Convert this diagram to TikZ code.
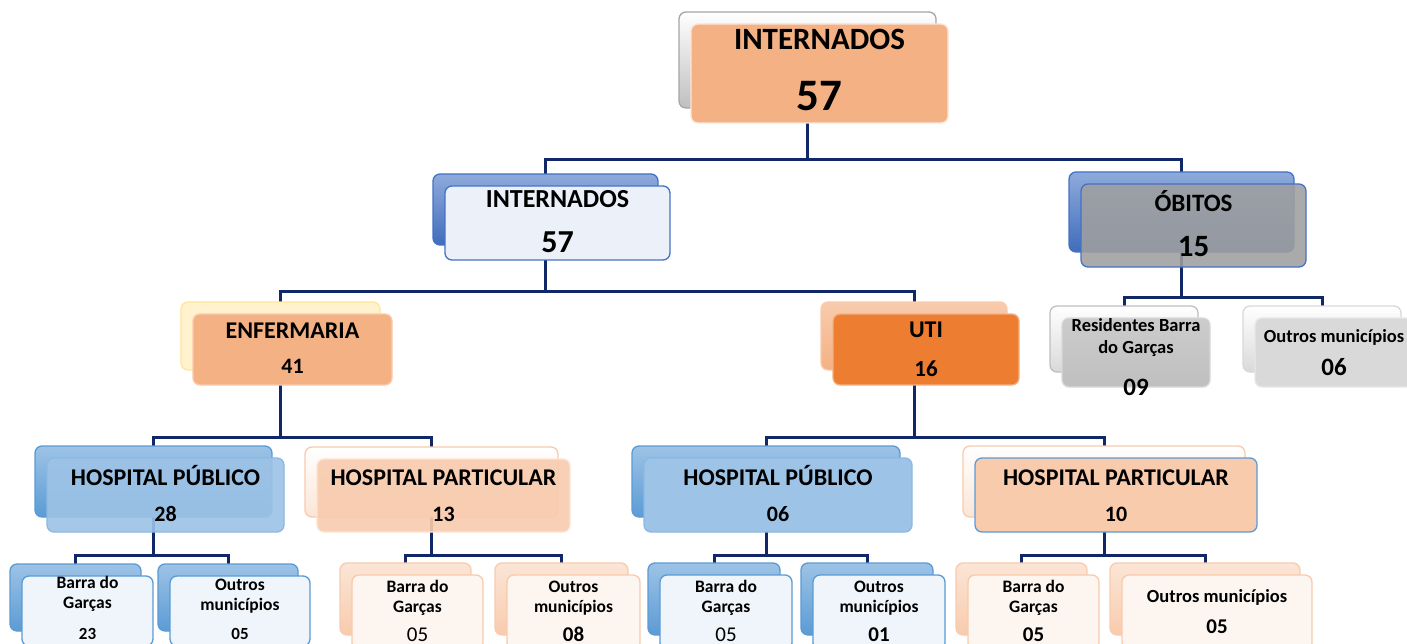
\documentclass[tikz,border=0pt]{standalone}
\usepackage{fontspec}
\setmainfont{Carlito}
\usetikzlibrary{calc,backgrounds}
\definecolor{navy}{RGB}{16,40,104}
\definecolor{orA}{HTML}{F4B183}
\definecolor{orB}{HTML}{ED7D31}
\definecolor{orC}{HTML}{F8CBAD}
\definecolor{orD}{HTML}{FBE5D6}
\definecolor{blA}{HTML}{4472C4}
\definecolor{blB}{HTML}{5B9BD5}
\definecolor{blC}{HTML}{9DC3E6}
\definecolor{blD}{HTML}{BDD7EE}
\definecolor{gyA}{HTML}{A5A5A5}
\definecolor{gyB}{HTML}{BFBFBF}
\definecolor{gyC}{HTML}{D9D9D9}
\definecolor{yeA}{HTML}{FFF2CC}
\definecolor{yeB}{HTML}{FFE699}
\tikzset{
  box/.style={rectangle, rounded corners=7pt, inner sep=0pt, outer sep=0pt, line width=1.3pt},
  conn/.style={draw=navy, line width=3pt},
  topback/.style={box, top color=white, bottom color=gyB, draw=gyA},
  topfront/.style={box, fill=orA, draw=orD},
  intback/.style={box, top color=blA!60, bottom color=blA!95!black, draw=blA},
  intfront/.style={box, fill=blA!10, draw=blA},
  obback/.style={box, top color=blA!60, bottom color=blA!95!black, draw=blA},
  obfront/.style={box, fill=gray!75, draw=blA},
  enfback/.style={box, fill=yeA, draw=yeB},
  enffront/.style={box, fill=orA, draw=orC},
  utiback/.style={box, top color=orC, bottom color=orA, draw=orC},
  utifront/.style={box, fill=orB, draw=orA},
  grback/.style={box, top color=white, bottom color=gyC, draw=gyB},
  grfront/.style={box, top color=gyB!80, bottom color=gyB, draw=gyC},
  glback/.style={box, top color=white, bottom color=gyC, draw=gyC},
  glfront/.style={box, fill=gyC, draw=gyC!60},
  hpback/.style={box, top color=blB!60, bottom color=blB, draw=blB},
  hpfront/.style={box, fill=blC, draw=blB!70},
  paback/.style={box, top color=white, bottom color=orD, draw=orC},
  pafront/.style={box, fill=orC, draw=orD},
  pbfront/.style={box, fill=orC, draw=blB},
  lbback/.style={box, top color=blB!60, bottom color=blB, draw=blB},
  lbfront/.style={box, fill=blB!10, draw=blB},
  lpback/.style={box, top color=orD, bottom color=orC, draw=orC},
  lpfront/.style={box, fill=orD!40, draw=orC},
}
% \card[extra front opts]{name}{fx1}{fy1}{fx2}{fy2}{back style}{front style}
\newcommand\card[8][]{%
  \node[#7, minimum width=#5pt-#3pt, minimum height=#6pt-#4pt-3pt] (#2b) at ({(#3+#5)/2-12},{(#4+#6)/2-13.5}) {};
  \node[#8, #1, minimum width=#5pt-#3pt, minimum height=#6pt-#4pt] (#2) at ({(#3+#5)/2},{(#4+#6)/2}) {};
}
% \lbl[font switch]{name}{x}{baseline y}{size}{text}
\newcommand\lbl[6][\bfseries]{%
  \node[anchor=base, inner sep=0pt, text=black, font=#1\fontsize{#5}{#5}\selectfont] (#2) at (#3,#4) {#6};
}
\begin{document}
\begin{tikzpicture}[x=1pt,y=-1pt]
\useasboundingbox (0,0) rectangle (1407,644);

% level 0
\card{top}{691}{24}{948}{123}{topback}{topfront}
% level 1
\card{int}{445}{186}{670}{260}{intback}{intfront}
\card[fill opacity=0.88]{ob}{1081}{184}{1306}{267}{obback}{obfront}
% level 2
\card{enf}{193}{314}{392}{385}{enfback}{enffront}
\card{uti}{833}{314}{1019}{385}{utiback}{utifront}
\card{res}{1062}{318}{1210}{387}{grback}{grfront}
\card{oob}{1255}{318}{1413}{387}{glback}{glfront}
% level 3
\card[fill opacity=0.9]{hpa}{47}{458}{284}{532}{hpback}{hpfront}
\card[fill opacity=0.9]{hpb}{317}{459}{570}{532}{paback}{pafront}
\card{hpc}{644}{458}{912}{532}{hpback}{hpfront}
\card{hpd}{975}{458}{1257}{532}{paback}{pbfront}
% level 4
\card{la}{22}{576}{153}{646}{lbback}{lbfront}
\card{lb}{170}{576}{310}{646}{lbback}{lbfront}
\card{lc}{352}{575}{483}{650}{lpback}{lpfront}
\card{ld}{507}{575}{640}{650}{lpback}{lpfront}
\card{le}{660}{575}{792}{650}{lbback}{lbfront}
\card{lf}{813}{575}{945}{650}{lbback}{lbfront}
\card{lg}{968}{575}{1099}{650}{lpback}{lpfront}
\card{lh}{1122}{575}{1312}{650}{lpback}{lpfront}

% branch levels
\coordinate (br0) at (0,160);
\coordinate (br1) at (0,291);
\coordinate (br2) at (0,297);
\coordinate (br3) at (0,437);
\coordinate (br4) at (0,555);

\begin{scope}[on background layer]
\fill[white] (0,0) rectangle (1407,644);
\draw[conn] (topb.center) -- (topb.center |- br0) -| (intb.center);
\draw[conn] (topb.center |- br0) -| (obb.center);
\draw[conn] (intb.center) -- (intb.center |- br1) -| (enfb.center);
\draw[conn] (intb.center |- br1) -| (utib.center);
\draw[conn] (obb.center) -- (obb.center |- br2) -| (resb.center);
\draw[conn] (obb.center |- br2) -| (oobb.center);
\draw[conn] (enfb.center) -- (enfb.center |- br3) -| (hpab.center);
\draw[conn] (enfb.center |- br3) -| (hpbb.center);
\draw[conn] (utib.center) -- (utib.center |- br3) -| (hpcb.center);
\draw[conn] (utib.center |- br3) -| (hpdb.center);
\draw[conn] (hpab.center) -- (hpab.center |- br4) -| (lab.center);
\draw[conn] (hpab.center |- br4) -| (lbb.center);
\draw[conn] (hpbb.center) -- (hpbb.center |- br4) -| (lcb.center);
\draw[conn] (hpbb.center |- br4) -| (ldb.center);
\draw[conn] (hpcb.center) -- (hpcb.center |- br4) -| (leb.center);
\draw[conn] (hpcb.center |- br4) -| (lfb.center);
\draw[conn] (hpdb.center) -- (hpdb.center |- br4) -| (lgb.center);
\draw[conn] (hpdb.center |- br4) -| (lhb.center);
\end{scope}

% texts
\lbl{t1}{819.5}{50}{31}{INTERNADOS}
\lbl{t2}{819.5}{111}{45}{57}
\lbl{t3}{557.5}{208}{26}{INTERNADOS}
\lbl{t4}{557.5}{253}{32}{57}
\lbl{t5}{1193.5}{212}{25}{ÓBITOS}
\lbl{t6}{1193.5}{256}{31}{15}
\lbl{t7}{292.5}{338}{24}{ENFERMARIA}
\lbl{t8}{292.5}{373}{22}{41}
\lbl{t9}{926}{337}{24}{UTI}
\lbl{t10}{926}{376}{23}{16}
\lbl{t11}{1136}{331.5}{18.5}{Residentes Barra}
\lbl{t12}{1136}{353}{18.5}{do Garças}
\lbl{t13}{1136}{395}{25}{09}
\lbl{t14}{1334}{342}{18.5}{Outros municípios}
\lbl{t15}{1334}{375}{25}{06}
\lbl{t16}{165.5}{485}{24}{HOSPITAL PÚBLICO}
\lbl{t17}{165.5}{521}{22}{28}
\lbl{t18}{443.5}{485}{24}{HOSPITAL PARTICULAR}
\lbl{t19}{443.5}{521}{22}{13}
\lbl{t20}{778}{485}{24}{HOSPITAL PÚBLICO}
\lbl{t21}{778}{521}{22}{06}
\lbl{t22}{1116}{485}{24}{HOSPITAL PARTICULAR}
\lbl{t23}{1116}{521}{22}{10}
% leaves
\lbl{a1}{87.5}{588}{17.5}{Barra do}
\lbl{a2}{87.5}{608}{17.5}{Garças}
\lbl{a3}{87.5}{639}{17}{23}
\lbl{b1}{240}{590}{17.5}{Outros}
\lbl{b2}{240}{610}{17.5}{municípios}
\lbl{b3}{240}{639}{17}{05}
\lbl{c1}{417.5}{592}{17.5}{Barra do}
\lbl{c2}{417.5}{612}{17.5}{Garças}
\lbl[\mdseries]{c3}{417.5}{641}{21}{05}
\lbl{d1}{573.5}{592}{17.5}{Outros}
\lbl{d2}{573.5}{612}{17.5}{municípios}
\lbl{d3}{573.5}{641}{21}{08}
\lbl{e1}{726}{592}{17.5}{Barra do}
\lbl{e2}{726}{612}{17.5}{Garças}
\lbl[\mdseries]{e3}{726}{641}{21}{05}
\lbl{f1}{879}{592}{17.5}{Outros}
\lbl{f2}{879}{612}{17.5}{municípios}
\lbl{f3}{879}{641}{21}{01}
\lbl{g1}{1033.5}{592}{17.5}{Barra do}
\lbl{g2}{1033.5}{612}{17.5}{Garças}
\lbl{g3}{1033.5}{641}{21}{05}
\lbl{h1}{1217}{602}{18.5}{Outros municípios}
\lbl{h2}{1217}{633}{21}{05}
\end{tikzpicture}
\end{document}
